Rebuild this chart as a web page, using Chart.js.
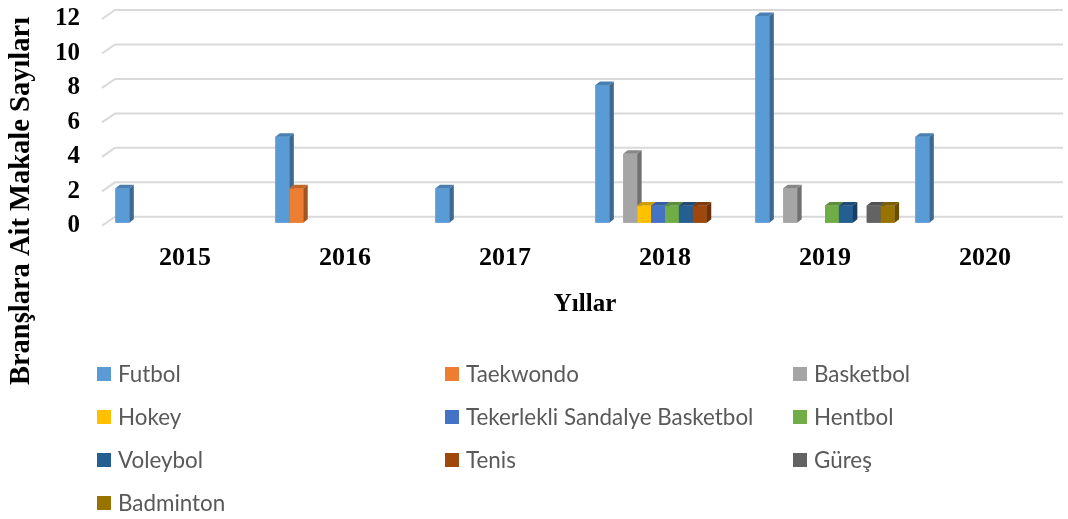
<!DOCTYPE html>
<html>
<head>
<meta charset="utf-8">
<script src="https://cdn.jsdelivr.net/npm/chart.js@4.4.1/dist/chart.umd.min.js"></script>
<style>
  html, body { margin: 0; padding: 0; background: #fff; }
  #wrap { position: relative; width: 1068px; height: 519px; }
  #legend {
    position: absolute; left: 97px; top: 352px;
    display: grid; grid-template-columns: 348px 348px 275px; grid-auto-rows: 43px;
    font-family: Lato, "Open Sans", sans-serif; font-size: 22.4px; color: #595959;
  }
  .item { display: flex; align-items: center; white-space: nowrap; }
  .box { width: 14px; height: 14px; margin-right: 7px; flex: none; }
</style>
</head>
<body>
<div id="wrap">
  <canvas id="chart" width="1068" height="519"></canvas>
  <div id="legend"></div>
</div>
<script>
const years = ["2015", "2016", "2017", "2018", "2019", "2020"];

const futbol     = [2, 5, 2, 8, 12, 5];
const taekwondo  = [0, 2, 0, 0, 0, 0];
const basketbol  = [0, 0, 0, 4, 2, 0];
const hokey      = [0, 0, 0, 1, 0, 0];
const tekerlekli = [0, 0, 0, 1, 0, 0];
const hentbol    = [0, 0, 0, 1, 1, 0];
const voleybol   = [0, 0, 0, 1, 1, 0];
const tenis      = [0, 0, 0, 1, 0, 0];
const gures      = [0, 0, 0, 0, 1, 0];
const badminton  = [0, 0, 0, 0, 1, 0];

const seriesNames = ["Futbol", "Taekwondo", "Basketbol", "Hokey", "Tekerlekli Sandalye Basketbol",
  "Hentbol", "Voleybol", "Tenis", "Güreş", "Badminton"];
const seriesData = [futbol, taekwondo, basketbol, hokey, tekerlekli, hentbol, voleybol, tenis, gures, badminton];
const seriesColors = ["#5B9BD5", "#ED7D31", "#A5A5A5", "#FFC000", "#4472C4",
  "#70AD47", "#255E91", "#9E480E", "#636363", "#997300"];

const serif = "'Liberation Serif', 'Times New Roman', serif";

const shade = (hex, f) => {
  const n = parseInt(hex.slice(1), 16);
  const r = Math.round(((n >> 16) & 255) * f);
  const g = Math.round(((n >> 8) & 255) * f);
  const b = Math.round((n & 255) * f);
  return `rgb(${r},${g},${b})`;
};

// back wall grid lines with the little 3D floor diagonal
const wallGrid = {
  id: "wallGrid",
  beforeDatasetsDraw(chart) {
    const { ctx, chartArea } = chart;
    const y = chart.scales.y;
    ctx.save();
    ctx.strokeStyle = "#d9d9d9";
    ctx.lineWidth = 2;
    y.ticks.forEach((t) => {
      const py = y.getPixelForValue(t.value);
      ctx.beginPath();
      ctx.moveTo(chartArea.left - 3, py + 3);
      ctx.lineTo(chartArea.left + 10, py - 6);
      ctx.lineTo(chartArea.right - 2, py - 6);
      ctx.stroke();
    });
    ctx.restore();
  },
};

// redraw bars left to right as little boxes (front, side, top) so each
// front face covers the side face of its left neighbour
const bar3d = {
  id: "bar3d",
  afterDatasetsDraw(chart) {
    const { ctx } = chart;
    const dx = 4.5, dy = 3.5;
    ctx.save();
    years.forEach((yr, j) => {
      chart.data.datasets.forEach((ds, i) => {
        if (!ds.data[j]) return;
        const bar = chart.getDatasetMeta(i).data[j];
        const { x, y, base, width } = bar.getProps(["x", "y", "base", "width"], true);
        const l = x - width / 2, r = x + width / 2;
        ctx.fillStyle = seriesColors[i];
        ctx.fillRect(l, y, width, base - y);
        ctx.fillStyle = shade(seriesColors[i], 0.68);
        ctx.beginPath();
        ctx.moveTo(r, y); ctx.lineTo(r + dx, y - dy); ctx.lineTo(r + dx, base - dy); ctx.lineTo(r, base);
        ctx.closePath(); ctx.fill();
        ctx.fillStyle = shade(seriesColors[i], 0.82);
        ctx.beginPath();
        ctx.moveTo(l, y); ctx.lineTo(l + dx, y - dy); ctx.lineTo(r + dx, y - dy); ctx.lineTo(r, y);
        ctx.closePath(); ctx.fill();
      });
    });
    ctx.restore();
  },
};

// y axis title, centred on the whole chart like Excel does
const yTitle = {
  id: "yTitle",
  afterDraw(chart) {
    const { ctx } = chart;
    ctx.save();
    ctx.translate(22, 201);
    ctx.rotate(-Math.PI / 2);
    ctx.font = `bold 28.5px ${serif}`;
    ctx.fillStyle = "#000";
    ctx.textAlign = "center";
    ctx.textBaseline = "middle";
    ctx.fillText("Branşlara Ait Makale Sayıları", 0, 0);
    ctx.restore();
  },
};

const datasets = seriesNames.map((name, i) => ({
  label: name,
  data: seriesData[i],
  backgroundColor: seriesColors[i],
  borderWidth: 0,
}));

new Chart(document.getElementById("chart"), {
  type: "bar",
  data: { labels: years, datasets: datasets },
  options: {
    responsive: false,
    animation: false,
    layout: { padding: { left: 0, right: 3, top: 16, bottom: 179 } },
    datasets: { bar: { categoryPercentage: 0.87, barPercentage: 1.0 } },
    scales: {
      x: {
        grid: { display: false, drawTicks: false },
        border: { display: false },
        ticks: { color: "#000", padding: 20, font: { family: serif, size: 26, weight: "bold" } },
        title: {
          display: true, text: "Yıllar", color: "#000",
          padding: { top: -4, bottom: 20 },
          font: { family: serif, size: 25, weight: "bold" },
        },
      },
      y: {
        min: 0, max: 12,
        grid: { display: false, drawTicks: false },
        border: { display: false },
        ticks: {
          stepSize: 2, autoSkip: false, color: "#000", padding: 25, labelOffset: 3,
          font: { family: serif, size: 25, weight: "bold" },
        },
        afterFit(scale) {
          scale.width = 105;
          scale.paddingTop = 10;
          scale.paddingBottom = 10;
        },
      },
    },
    plugins: {
      legend: { display: false },
      tooltip: { enabled: false },
    },
  },
  plugins: [wallGrid, bar3d, yTitle],
});

const legend = document.getElementById("legend");
seriesNames.forEach((name, i) => {
  const item = document.createElement("div");
  item.className = "item";
  item.innerHTML = `<span class="box" style="background:${seriesColors[i]}"></span><span>${name}</span>`;
  legend.appendChild(item);
});
</script>
</body>
</html>
